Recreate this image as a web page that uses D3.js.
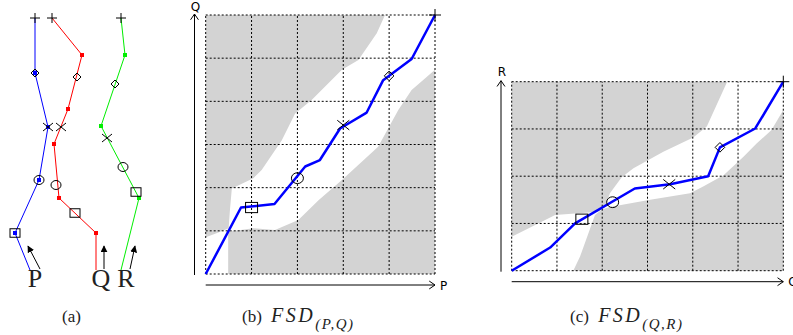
<!DOCTYPE html>
<html>
<head>
<meta charset="utf-8">
<script src="https://cdn.jsdelivr.net/npm/d3@7"></script>
<style>
  body { margin: 0; background: #fff; }
  svg { display: block; }
</style>
</head>
<body>
<div id="chart"></div>
<script>
// ---- panel (a): three trajectories [x, height above base] ----
const trajP = [[30, 0], [15, 37], [39, 90], [48, 143], [35, 197], [35, 252]];
const trajQ = [[96, 0], [96, 37], [59, 72], [54, 126], [68, 161], [82, 215], [52, 252]];
const trajR = [[121, 0], [139, 72], [101, 144], [125, 215], [121, 252]];
// marker order: square, circle, cross, diamond, plus
const markerTypes = ["square", "circle", "cross", "diamond", "plus"];
const markP = [[15, 37], [39, 90], [48, 143], [35, 197], [35, 252]];
const markQ = [[75, 57], [56, 85], [61, 143], [77, 193], [52, 252]];
const markR = [[136, 78], [123, 103], [107, 132], [115, 186], [121, 252]];
const trajNames = ["P", "Q", "R"];

// ---- panel (b): FSD(P,Q), P in [0,5], Q in [0,6] ----
const pathPQ = [[0, 0], [0.77, 1.54], [1.5, 1.62], [2.17, 2.49], [2.49, 2.64], [2.93, 3.37],
  [3.51, 3.74], [3.87, 4.49], [4.49, 4.98], [5, 6]];
const markPQ = [[1, 1.54], [2, 2.22], [3, 3.45], [4, 4.59], [5, 6]];
const grayPQupper = [[0, 6], [3.91, 6], [3.73, 5.58], [3.33, 4.96], [2.97, 4.73], [2.31, 4.03],
  [1.95, 3.72], [1.66, 3.1], [1.22, 2.41], [1.04, 2.22], [0.57, 1.98], [0.53, 1.5],
  [0.5, 1.06], [0.25, 0.95], [0, 0.85]];
const grayPQlower = [[0.49, 0], [5, 0], [5, 4.73], [4.49, 4.26], [4.2, 3.8], [3.76, 2.95],
  [2.97, 2.18], [2.46, 1.71], [2.02, 1.25], [1.51, 1.02], [1.04, 1.06], [0.49, 0.98]];

// ---- panel (c): FSD(Q,R), Q in [0,6], R in [0,4] ----
const pathQR = [[0, 0], [0.85, 0.49], [1.4, 1.0], [2.72, 1.74], [3.5, 1.83], [4.34, 2.0],
  [4.6, 2.61], [5.38, 3.01], [6, 4]];
const markQR = [[1.55, 1.09], [2.23, 1.45], [3.48, 1.83], [4.6, 2.61], [6, 4]];
const grayQRupper = [[0, 4], [4.76, 4], [4.31, 3.05], [4.01, 2.82], [3.35, 2.52], [2.69, 2.17],
  [2.43, 1.98], [2.17, 1.64], [2.06, 1.35], [1.91, 1.25], [0.96, 1.18], [0, 0.72]];
const grayQRlower = [[1.36, 0], [6, 0], [6, 3.4], [5.74, 2.98], [5.41, 2.69], [5.12, 2.41],
  [4.68, 2.02], [4.23, 1.78], [3.94, 1.64], [3.06, 1.5], [2.17, 1.35], [2.0, 1.3],
  [1.84, 1.18], [1.51, 0.3]];

const width = 793, height = 335;
const svg = d3.select("#chart").append("svg")
  .attr("width", width).attr("height", height);

svg.append("defs").append("marker")
  .attr("id", "head").attr("viewBox", "0 0 10 10")
  .attr("refX", 9).attr("refY", 5)
  .attr("markerWidth", 7).attr("markerHeight", 7)
  .attr("orient", "auto")
  .append("path").attr("d", "M0,0L10,5L0,10z").attr("fill", "#000");

function drawMarker(g, type, x, y, s) {
  const h = s / 2;
  const st = { stroke: "#000", "stroke-width": 1, fill: "none" };
  let el;
  if (type === "square") el = g.append("rect").attr("x", x - h).attr("y", y - h * 0.85).attr("width", s).attr("height", s * 0.85);
  else if (type === "circle") el = g.append("ellipse").attr("cx", x).attr("cy", y).attr("rx", h).attr("ry", h * 0.9);
  else if (type === "cross") el = g.append("path").attr("d", `M${x - h},${y - h * 0.8}L${x + h},${y + h * 0.8}M${x - h},${y + h * 0.8}L${x + h},${y - h * 0.8}`);
  else if (type === "diamond") el = g.append("path").attr("d", `M${x},${y - h * 0.8}L${x + h * 0.8},${y}L${x},${y + h * 0.8}L${x - h * 0.8},${y}z`);
  else el = g.append("path").attr("d", `M${x - h},${y}L${x + h},${y}M${x},${y - h}L${x},${y + h}`);
  Object.entries(st).forEach(([k, v]) => el.attr(k, v));
}

// ================= panel (a) =================
const ax = d3.scaleLinear().domain([0, 150]).range([0, 150]);
const ay = d3.scaleLinear().domain([0, 270]).range([270, 0]);
const ga = svg.append("g");
const trajs = [trajP, trajQ, trajR];
const marks = [markP, markQ, markR];
const trajColors = ["#0000ff", "#ff0000", "#00ee00"];
const aLine = d3.line().x(d => ax(d[0])).y(d => ay(d[1]));

trajs.forEach((t, i) => {
  ga.append("path").attr("d", aLine(t)).attr("fill", "none")
    .attr("stroke", trajColors[i]).attr("stroke-width", 1);
  ga.selectAll(null).data(t.slice(1, -1)).enter().append("rect")
    .attr("x", d => ax(d[0]) - 2).attr("y", d => ay(d[1]) - 2)
    .attr("width", 4).attr("height", 4).attr("fill", trajColors[i]);
  marks[i].forEach((m, k) => drawMarker(ga, markerTypes[k], ax(m[0]), ay(m[1]), 10));
  // arrow pointing to trajectory start
  const s = t[0];
  const dx = i === 0 ? 10 : (i === 1 ? 8 : 9);
  const tilt = i === 0 ? -12 : (i === 1 ? 0 : 5);
  ga.append("line")
    .attr("x1", ax(s[0] + dx)).attr("y1", ay(s[1] + 1))
    .attr("x2", ax(s[0] + dx + tilt)).attr("y2", ay(s[1] + 24))
    .attr("stroke", "#000").attr("stroke-width", 1).attr("marker-end", "url(#head)");
});
const labelX = [35, 101, 126];
ga.selectAll("text.tl").data(trajNames).enter().append("text")
  .attr("x", (d, i) => ax(labelX[i])).attr("y", ay(-17))
  .attr("text-anchor", "middle")
  .style("font-family", "Liberation Serif, serif").style("font-size", "26px")
  .attr("fill", "#222").text(d => d);

// ================= FSD panels =================
function drawFSD(opts) {
  const { xs, ys, upper, lower, path, mk, xl, yl, axisX, axisY } = opts;
  const g = svg.append("g");
  const poly = d3.line().x(d => xs(d[0])).y(d => ys(d[1]));
  g.append("rect").attr("x", xs.range()[0]).attr("y", ys.range()[1])
    .attr("width", xs.range()[1] - xs.range()[0]).attr("height", ys.range()[0] - ys.range()[1])
    .attr("fill", "#fff");
  [upper, lower].forEach(p => g.append("path").attr("d", poly(p) + "Z").attr("fill", "#d3d3d3"));
  const [x0, x1] = xs.domain(), [y0, y1] = ys.domain();
  g.selectAll(null).data(d3.range(x0, x1 + 1)).enter().append("line")
    .attr("x1", d => xs(d)).attr("x2", d => xs(d))
    .attr("y1", ys(y0)).attr("y2", ys(y1))
    .attr("stroke", "#000").attr("stroke-width", 1).attr("stroke-dasharray", "2,2");
  g.selectAll(null).data(d3.range(y0, y1 + 1)).enter().append("line")
    .attr("y1", d => ys(d)).attr("y2", d => ys(d))
    .attr("x1", xs(x0)).attr("x2", xs(x1))
    .attr("stroke", "#000").attr("stroke-width", 1).attr("stroke-dasharray", "2,2");
  g.append("path").attr("d", poly(path)).attr("fill", "none")
    .attr("stroke", "#0000ff").attr("stroke-width", 2.5).attr("stroke-linejoin", "round");
  mk.forEach((m, k) => drawMarker(g, markerTypes[k], xs(m[0]), ys(m[1]), 12));
  // axes as arrows
  const arrow = (x1, y1, x2, y2) => {
    g.append("line").attr("x1", x1).attr("y1", y1).attr("x2", x2).attr("y2", y2)
      .attr("stroke", "#000").attr("stroke-width", 1);
    const ang = Math.atan2(y2 - y1, x2 - x1), L = 7;
    [0.6, -0.6].forEach(a => g.append("line").attr("x1", x2).attr("y1", y2)
      .attr("x2", x2 - L * Math.cos(ang + a)).attr("y2", y2 - L * Math.sin(ang + a))
      .attr("stroke", "#000").attr("stroke-width", 1));
  };
  arrow(axisY, ys(y0) + 1, axisY, ys(y1) - 1);
  arrow(xs(x0), axisX, xs(x1), axisX);
  const lab = { "font-family": "DejaVu Sans, sans-serif", "font-size": "12px" };
  const t1 = g.append("text").attr("x", axisY + 1).attr("y", Math.max(ys(y1) - 6, 10.5)).attr("text-anchor", "middle").text(yl);
  const t2 = g.append("text").attr("x", xs(x1) + 5).attr("y", axisX + 4.5).text(xl);
  [t1, t2].forEach(t => Object.entries(lab).forEach(([k, v]) => t.style(k, v)));
}

drawFSD({
  xs: d3.scaleLinear().domain([0, 5]).range([205.7, 435]),
  ys: d3.scaleLinear().domain([0, 6]).range([274, 15]),
  upper: grayPQupper, lower: grayPQlower, path: pathPQ, mk: markPQ,
  xl: "P", yl: "Q", axisX: 285, axisY: 194.5
});
drawFSD({
  xs: d3.scaleLinear().domain([0, 6]).range([511.7, 783.3]),
  ys: d3.scaleLinear().domain([0, 4]).range([270.7, 81.7]),
  upper: grayQRupper, lower: grayQRlower, path: pathQR, mk: markQR,
  xl: "Q", yl: "R", axisX: 281.7, axisY: 501
});

// ================= captions =================
const captions = [
  { x: 62, pre: "(a)", main: "", sub: "" },
  { x: 242, pre: "(b) ", main: "FSD", sub: "(P,Q)" },
  { x: 570, pre: "(c) ", main: "FSD", sub: "(Q,R)" }
];
captions.forEach(c => {
  const t = svg.append("text").attr("x", c.x).attr("y", 322)
    .style("font-family", "Liberation Serif, serif").style("font-size", "17px").attr("fill", "#222");
  t.append("tspan").text(c.pre);
  if (c.main) {
    t.append("tspan").attr("dx", 5).style("font-style", "italic").style("font-size", "20px")
      .style("letter-spacing", "2.5px").text(c.main);
    t.append("tspan").attr("dy", 7).style("font-style", "italic").style("font-size", "15px")
      .style("letter-spacing", "1.5px").text(c.sub);
  }
});
</script>
</body>
</html>
